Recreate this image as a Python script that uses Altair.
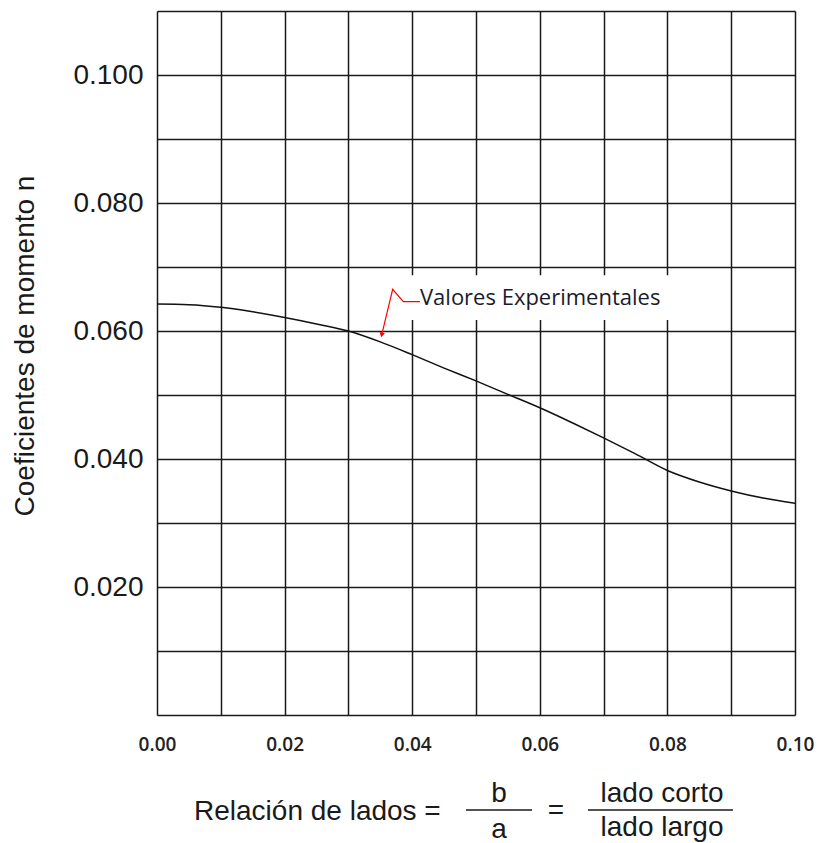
import altair as alt
import pandas as pd

# curve: Coeficientes de momento n vs relación de lados b/a
ratio = [0.0, 0.005, 0.01, 0.015, 0.02, 0.025, 0.03, 0.035, 0.04, 0.045, 0.05,
         0.055, 0.06, 0.065, 0.07, 0.075, 0.08, 0.085, 0.09, 0.095, 0.10]
coef = [0.0642, 0.0641, 0.0637, 0.0630, 0.0621, 0.0611, 0.0600, 0.0583, 0.0563, 0.0542, 0.0522,
        0.0501, 0.0480, 0.0457, 0.0433, 0.0408, 0.0382, 0.0364, 0.0350, 0.0339, 0.0331]

grid_x = [0.0, 0.01, 0.02, 0.03, 0.04, 0.05, 0.06, 0.07, 0.08, 0.09, 0.10]
grid_y = [0.0, 0.01, 0.02, 0.03, 0.04, 0.05, 0.06, 0.07, 0.08, 0.09, 0.10, 0.11]

# annotation
label_text = "Valores Experimentales"
label_x = [0.04122]
label_y = [0.0641]
arrow_x = [0.04122, 0.03861, 0.03694, 0.03522]
arrow_y = [0.06458, 0.06458, 0.06652, 0.05938]
box_x = [0.0360]
box_x2 = [0.0815]
box_y = [0.0617]
box_y2 = [0.0687]

y_title = "Coeficientes de momento  n"
x_title_left = "Relación de lados ="
frac1_num = "b"
frac1_den = "a"
eq_sign = "="
frac2_num = "lado corto"
frac2_den = "lado largo"

curve_df = pd.DataFrame({"r": ratio, "n": coef})
arrow_df = pd.DataFrame({"r": arrow_x, "n": arrow_y, "o": list(range(len(arrow_x)))})
head_df = pd.DataFrame({"r": arrow_x[-1:], "n": arrow_y[-1:]})
box_df = pd.DataFrame({"x": box_x, "x2": box_x2, "y": box_y, "y2": box_y2})
label_df = pd.DataFrame({"r": label_x, "n": label_y, "t": [label_text]})

xscale = alt.Scale(domain=[0, 0.1], nice=False, zero=False)
yscale = alt.Scale(domain=[0, 0.11], nice=False, zero=False)

xaxis = alt.Axis(
    values=grid_x, title=None, grid=True, ticks=False, domain=False,
    labelExpr="(round(datum.value*100) % 2 == 0) ? format(datum.value, '.2f') : ''",
    labelFlush=False, labelOverlap=False, labelFont="Open Sans", labelFontWeight=600,
    labelFontSize=19, labelColor="#222222", labelPadding=20,
    gridColor="#1a1a1a", gridWidth=1.5,
)
yaxis = alt.Axis(
    values=grid_y, title=None, grid=True, ticks=False, domain=False,
    labelExpr="(round(datum.value*100) % 2 == 0 && datum.value > 0.005 && datum.value < 0.105) ? format(datum.value, '.3f') : ''",
    labelFlush=False, labelOverlap=False, labelFont="Liberation Sans",
    labelFontSize=28, labelColor="#1a1a1a", labelPadding=14,
    gridColor="#1a1a1a", gridWidth=1.5,
)

curve = alt.Chart(curve_df).mark_line(color="#111111", strokeWidth=1.5, interpolate="monotone").encode(
    x=alt.X("r:Q", scale=xscale, axis=xaxis),
    y=alt.Y("n:Q", scale=yscale, axis=yaxis),
)

box = alt.Chart(box_df).mark_rect(color="white").encode(
    x=alt.X("x:Q", scale=xscale), x2="x2:Q",
    y=alt.Y("y:Q", scale=yscale), y2="y2:Q",
)

arrow = alt.Chart(arrow_df).mark_line(color="#ff0000", strokeWidth=1.2).encode(
    x=alt.X("r:Q", scale=xscale), y=alt.Y("n:Q", scale=yscale), order="o:O",
)
head = alt.Chart(head_df).mark_point(shape="triangle-down", filled=True, color="#ff0000",
                                      size=30, angle=13, opacity=1).encode(
    x=alt.X("r:Q", scale=xscale), y=alt.Y("n:Q", scale=yscale),
)
label = alt.Chart(label_df).mark_text(align="left", baseline="alphabetic", font="Open Sans",
                                       fontSize=22, color="#1a1a2e").encode(
    x=alt.X("r:Q", scale=xscale), y=alt.Y("n:Q", scale=yscale), text="t:N",
)


def txt(s, x, y, align="center", angle=0, baseline="alphabetic"):
    return alt.Chart(pd.DataFrame({"t": [s]})).mark_text(
        align=align, baseline=baseline, font="Liberation Sans", fontSize=28,
        color="#1a1a1a", angle=angle,
    ).encode(x=alt.value(x), y=alt.value(y), text="t:N")


def hline(x1, x2, y):
    return alt.Chart(pd.DataFrame({"t": [0]})).mark_rule(color="#1a1a1a", strokeWidth=1.6).encode(
        x=alt.value(x1), x2=alt.value(x2), y=alt.value(y)
    )


titles = [
    txt(y_title, -131, 335, angle=270, baseline="middle"),
    txt(x_title_left, 37, 809, align="left"),
    txt(frac1_num, 342, 791),
    hline(309, 375, 799),
    txt(frac1_den, 342, 827),
    txt(eq_sign, 399, 808),
    txt(frac2_num, 505, 791),
    hline(431, 576, 799),
    txt(frac2_den, 505, 825),
]

chart = alt.layer(curve, box, arrow, head, label, *titles).properties(
    width=638, height=704,
    autosize=alt.AutoSizeParams(type="none"),
    padding={"left": 149, "top": 3, "right": 24, "bottom": 128},
).configure_view(stroke="#333333", strokeWidth=1.5).configure(background="white")

chart.save("out.html", embed_options={"renderer": "svg", "actions": False})
